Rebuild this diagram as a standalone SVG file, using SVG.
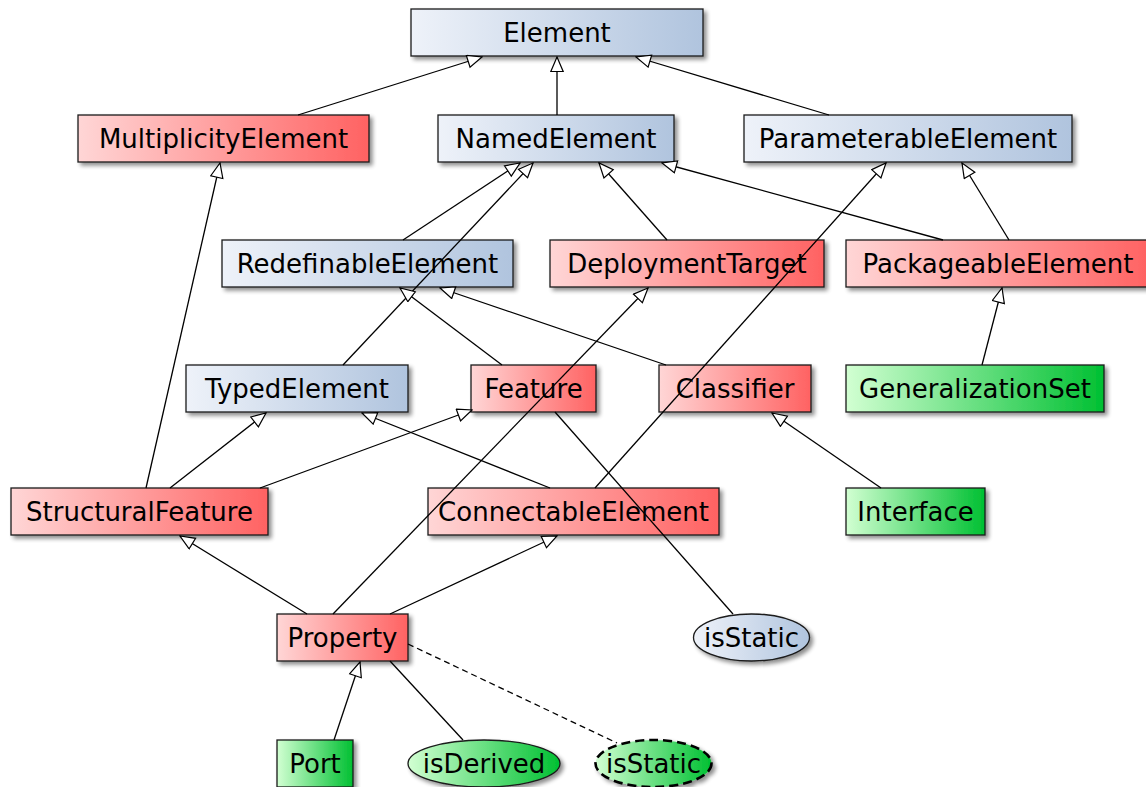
<svg xmlns="http://www.w3.org/2000/svg" width="1146" height="787" viewBox="0 0 1146 787">
  <defs>
    <linearGradient id="gBlue" x1="0" y1="0" x2="1" y2="0">
      <stop offset="0" stop-color="#eef2f9"/>
      <stop offset="1" stop-color="#b0c4de"/>
    </linearGradient>
    <linearGradient id="gRed" x1="0" y1="0" x2="1" y2="0">
      <stop offset="0" stop-color="#ffd6d6"/>
      <stop offset="1" stop-color="#ff6262"/>
    </linearGradient>
    <linearGradient id="gGreen" x1="0" y1="0" x2="1" y2="0">
      <stop offset="0" stop-color="#d2ffd2"/>
      <stop offset="1" stop-color="#00c032"/>
    </linearGradient>
    <filter id="shadow" x="-10%" y="-30%" width="130%" height="170%">
      <feGaussianBlur in="SourceAlpha" stdDeviation="2"/>
      <feOffset dx="3" dy="3" result="b"/>
      <feComponentTransfer><feFuncA type="linear" slope="0.45"/></feComponentTransfer>
      <feMerge><feMergeNode/><feMergeNode in="SourceGraphic"/></feMerge>
    </filter>
    <marker id="gen" markerWidth="17" markerHeight="15" refX="15.5" refY="7" orient="auto" markerUnits="userSpaceOnUse">
      <path d="M1,0.8 L15.5,7 L1,13.2 Z" fill="#fff" stroke="#000" stroke-width="1.2" stroke-linejoin="miter"/>
    </marker>
  </defs>
  <style>
    .box { stroke: #1a1a1a; stroke-width: 1.3; filter: url(#shadow); }
    .blue { fill: url(#gBlue); }
    .red { fill: url(#gRed); }
    .green { fill: url(#gGreen); }
    .dashed { stroke: #000; stroke-width: 2.6; stroke-dasharray: 9 5; }
    .lbl { font-family: "DejaVu Sans", "Liberation Sans", sans-serif; font-size: 26px; fill: #000; text-anchor: middle; }
    .edge { stroke: #000; stroke-width: 1.3; fill: none; }
    .gen { marker-end: url(#gen); }
    .dash { stroke-dasharray: 6 4; }
  </style>

  <rect width="1146" height="787" fill="#fff"/>

  <g id="nodes">
    <g id="Element"><rect class="box blue" x="411" y="9" width="292" height="47"/><text class="lbl" x="557" y="41.5">Element</text></g>
    <g id="MultiplicityElement"><rect class="box red" x="78" y="115" width="291" height="47"/><text class="lbl" x="223.5" y="147.5">MultiplicityElement</text></g>
    <g id="NamedElement"><rect class="box blue" x="438" y="115" width="236" height="47"/><text class="lbl" x="556" y="147.5">NamedElement</text></g>
    <g id="ParameterableElement"><rect class="box blue" x="744" y="115" width="328" height="47"/><text class="lbl" x="908" y="147.5">ParameterableElement</text></g>
    <g id="RedefinableElement"><rect class="box blue" x="222" y="240" width="291" height="47"/><text class="lbl" x="367.5" y="272.5">RedefinableElement</text></g>
    <g id="DeploymentTarget"><rect class="box red" x="550" y="240" width="274" height="47"/><text class="lbl" x="687" y="272.5">DeploymentTarget</text></g>
    <g id="PackageableElement"><rect class="box red" x="846" y="240" width="304" height="47"/><text class="lbl" x="998" y="272.5">PackageableElement</text></g>
    <g id="TypedElement"><rect class="box blue" x="186" y="365" width="222" height="47"/><text class="lbl" x="297" y="397.5">TypedElement</text></g>
    <g id="Feature"><rect class="box red" x="471" y="365" width="125" height="47"/><text class="lbl" x="533.5" y="397.5">Feature</text></g>
    <g id="Classifier"><rect class="box red" x="659" y="365" width="152" height="47"/><text class="lbl" x="735" y="397.5">Classifier</text></g>
    <g id="GeneralizationSet"><rect class="box green" x="846" y="365" width="258" height="47"/><text class="lbl" x="975" y="397.5">GeneralizationSet</text></g>
    <g id="StructuralFeature"><rect class="box red" x="11" y="488" width="257" height="47"/><text class="lbl" x="139.5" y="520.5">StructuralFeature</text></g>
    <g id="ConnectableElement"><rect class="box red" x="428" y="488" width="291" height="47"/><text class="lbl" x="573.5" y="520.5">ConnectableElement</text></g>
    <g id="Interface"><rect class="box green" x="846" y="488" width="139" height="47"/><text class="lbl" x="915.5" y="520.5">Interface</text></g>
    <g id="Property"><rect class="box red" x="277" y="614" width="131" height="47"/><text class="lbl" x="342.5" y="646.5">Property</text></g>
    <g id="Port"><rect class="box green" x="277" y="740" width="76" height="47"/><text class="lbl" x="315" y="772.5">Port</text></g>
    <g id="Feature_isStatic"><ellipse class="box blue" cx="751.5" cy="637.5" rx="58" ry="23.5"/><text class="lbl" x="751.5" y="646.5">isStatic</text></g>
    <g id="Property_isDerived"><ellipse class="box green" cx="484" cy="763.5" rx="76" ry="23.5"/><text class="lbl" x="484" y="772.5">isDerived</text></g>
    <g id="Property_isStatic"><ellipse class="box green dashed" cx="653.5" cy="763.5" rx="58" ry="23.5"/><text class="lbl" x="653.5" y="772.5">isStatic</text></g>
  </g>

  <g id="connectors">
    <line class="edge gen" x1="298" y1="115" x2="482" y2="57"/>
    <line class="edge gen" x1="557" y1="115" x2="557" y2="57"/>
    <line class="edge gen" x1="829" y1="115" x2="636" y2="57"/>
    <line class="edge gen" x1="403" y1="240" x2="520" y2="163"/>
    <line class="edge gen" x1="343" y1="365" x2="533" y2="163"/>
    <line class="edge gen" x1="667" y1="240" x2="599" y2="163"/>
    <line class="edge gen" x1="943" y1="240" x2="662" y2="163"/>
    <line class="edge gen" x1="1009" y1="240" x2="962" y2="163"/>
    <line class="edge gen" x1="502" y1="365" x2="400" y2="288"/>
    <line class="edge gen" x1="666" y1="365" x2="440" y2="288"/>
    <line class="edge gen" x1="982" y1="365" x2="1002" y2="288"/>
    <line class="edge gen" x1="170" y1="488" x2="266" y2="413"/>
    <line class="edge gen" x1="260" y1="488" x2="472" y2="410"/>
    <line class="edge gen" x1="146" y1="488" x2="220" y2="163"/>
    <line class="edge gen" x1="550" y1="488" x2="362" y2="413"/>
    <line class="edge gen" x1="595" y1="488" x2="886" y2="163"/>
    <line class="edge gen" x1="881" y1="488" x2="772" y2="413"/>
    <line class="edge gen" x1="307" y1="614" x2="180" y2="536"/>
    <line class="edge gen" x1="390" y1="614" x2="557" y2="536"/>
    <line class="edge gen" x1="333" y1="614" x2="648" y2="288"/>
    <line class="edge gen" x1="334" y1="740" x2="360" y2="662"/>
    <line class="edge" x1="555" y1="412" x2="733" y2="614"/>
    <line class="edge" x1="390" y1="661" x2="463" y2="740"/>
    <line class="edge dash" x1="408" y1="644" x2="617" y2="743"/>
  </g>
</svg>
